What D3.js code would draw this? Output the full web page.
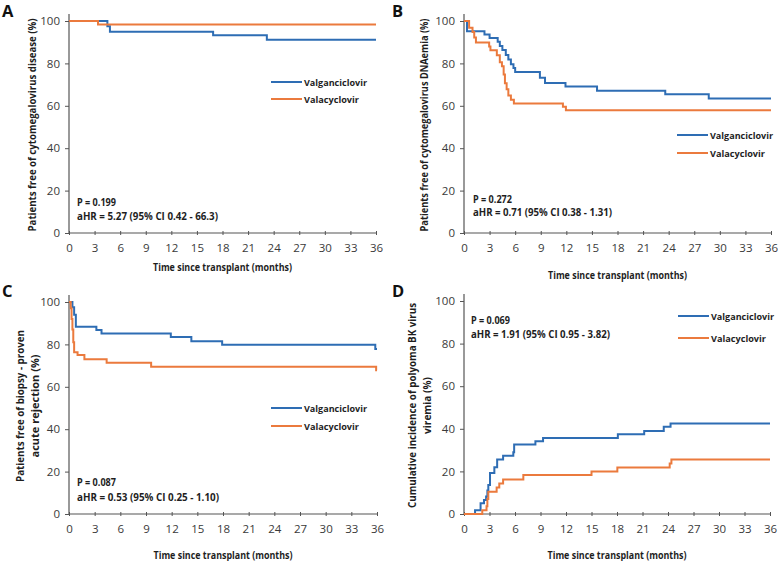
<!DOCTYPE html>
<html>
<head>
<meta charset="utf-8">
<script src="https://cdn.jsdelivr.net/npm/d3@7"></script>
<style>
  html, body { margin: 0; padding: 0; background: #fff; }
  svg { display: block; }
  text { font-family: "Open Sans", "Liberation Sans", Arial, sans-serif; }
</style>
</head>
<body>
<svg id="chart" width="778" height="561"></svg>
<script>
// ---------------- DATA ----------------
const seriesNames = ["Valganciclovir", "Valacyclovir"];
const xTicks = [0, 3, 6, 9, 12, 15, 18, 21, 24, 27, 30, 33, 36];
const yTicks = [0, 20, 40, 60, 80, 100];

// Panel A: CMV disease-free (%), [month, value]
const aValgan = [[0,100],[4.5,97.5],[4.8,94.9],[16.9,93.3],[23.2,91.2],[36,91.2]];
const aValacy = [[0,100],[3.4,98.4],[36,98.4]];

// Panel B: CMV DNAemia-free (%)
const bValgan = [[0,100],[0.35,95.2],[2.4,93.6],[3.0,92.0],[3.95,90.2],[4.2,88.2],[4.5,86.3],[4.9,84],[5.2,81.8],[5.5,79.6],[5.8,77.8],[6.0,76.0],[8.9,73.2],[9.5,70.8],[11.9,69.1],[15.6,67.1],[23.6,65.5],[28.7,63.5],[36,63.5]];
const bValacy = [[0,100],[0.6,96.8],[1.0,94.8],[1.2,92.2],[1.4,89.8],[2.95,88.0],[3.1,86.2],[3.85,83.8],[4.2,80.6],[4.45,78.6],[4.65,74.8],[4.8,70.6],[5.0,67.8],[5.2,64.8],[5.5,62.8],[5.85,61.1],[11.6,59.6],[11.95,57.9],[36,57.9]];

// Panel C: biopsy-proven acute rejection-free (%)
const cValgan = [[0,100],[0.4,97.5],[0.6,94],[0.8,88.3],[3.2,86.8],[3.8,85.1],[11.9,83.5],[14.3,81.5],[17.9,79.8],[35.8,77.8],[36,77.8]];
const cValacy = [[0,100],[0.2,97],[0.3,92],[0.4,87],[0.5,81],[0.6,76.3],[1.0,75.0],[1.8,73.0],[4.4,71.4],[9.6,69.5],[35.9,67.8],[36,67.8]];

// Panel D: cumulative incidence of BK viremia (%)
const dValgan = [[0,0],[1.3,1.8],[1.95,5],[2.35,6.6],[2.6,8.2],[2.75,11],[2.86,13.6],[3.06,19.3],[3.57,22],[3.9,25.6],[4.6,27.3],[5.8,29],[5.9,32.6],[8.4,34.1],[9.3,35.7],[18.1,37.4],[21.2,39],[23.5,41],[24.3,42.5],[36,42.5]];
const dValacy = [[0,0],[2.15,1.8],[2.65,3.6],[2.75,7],[2.86,10.5],[3.84,12.5],[4.15,14.3],[4.6,16.2],[6.98,18.3],[15.0,19.9],[18.04,21.8],[24.2,23.7],[24.4,25.6],[36,25.6]];

const panelLabels = ["A", "B", "C", "D"];
const yTitles = [
  ["Patients free of cytomegalovirus disease (%)"],
  ["Patients free of cytomegalovirus DNAemia (%)"],
  ["Patients free of biopsy - proven", "acute rejection (%)"],
  ["Cumulative incidence of polyoma BK virus", "viremia  (%)"]
];
const xTitle = "Time since transplant (months)";
const pTexts = ["P = 0.199", "P = 0.272", "P = 0.087", "P = 0.069"];
const hrTexts = [
  "aHR = 5.27 (95% CI 0.42 - 66.3)",
  "aHR = 0.71 (95% CI 0.38 - 1.31)",
  "aHR = 0.53 (95% CI 0.25 - 1.10)",
  "aHR = 1.91 (95% CI 0.95 - 3.82)"
];

// ---------------- LAYOUT ----------------
const colors = ["#2e6db4", "#eb7a3d"];
const panels = [
  { x0: 69,  x1: 376, yT: 21,  yB: 233, titleY: 271, lab: [2, 17],   yTitleX: [32], yTitleW: [213],
    leg: { x: 271, y: [82, 99] },   ann: { x: 77, y: [202, 216] }, hrW: 141, data: [aValgan, aValacy] },
  { x0: 464, x1: 771, yT: 21,  yB: 233, titleY: 279, lab: [392, 17], yTitleX: [424], yTitleW: [213],
    leg: { x: 677, y: [135, 153] }, ann: { x: 473, y: [199, 212] }, hrW: 139, data: [bValgan, bValacy] },
  { x0: 69,  x1: 377, yT: 302, yB: 514, titleY: 559, lab: [2, 297],  yTitleX: [20, 35], yTitleW: [152, 103],
    leg: { x: 271, y: [408, 426] }, ann: { x: 77, y: [482, 497] }, hrW: 142, data: [cValgan, cValacy] },
  { x0: 464, x1: 770, yT: 301, yB: 514, titleY: 559, lab: [392, 297], yTitleX: [412, 427], yTitleW: [205, 57],
    leg: { x: 678, y: [316, 338] }, ann: { x: 471, y: [320, 334] }, hrW: 139, data: [dValgan, dValacy] }
];

const svg = d3.select("#chart");

function boldText(g, x, y, txt, w, fs) {
  const t = g.append("text").attr("x", x).attr("y", y)
    .attr("font-weight", "bold").attr("font-size", fs || 10.5).attr("fill", "#1e1e1e").text(txt);
  if (w) t.attr("textLength", w).attr("lengthAdjust", "spacingAndGlyphs");
  return t;
}

panels.forEach((p, i) => {
  const g = svg.append("g");
  const x = d3.scaleLinear().domain([0, 36]).range([p.x0, p.x1]);
  const y = d3.scaleLinear().domain([0, 100]).range([p.yB, p.yT]);

  // panel label
  g.append("text").attr("x", p.lab[0]).attr("y", p.lab[1])
    .attr("font-family", "Liberation Sans, Arial, sans-serif")
    .attr("font-weight", "bold").attr("font-size", 16.5).attr("fill", "#111")
    .text(panelLabels[i]);

  // y axis
  const yAxis = g.append("g").attr("transform", `translate(${p.x0},0)`)
    .call(d3.axisLeft(y).tickValues(yTicks).tickSize(4).tickPadding(5));
  yAxis.select(".domain").remove();
  yAxis.selectAll(".tick line").attr("stroke", "#555");
  yAxis.selectAll(".tick text").attr("font-size", 11.5).attr("fill", "#3a3a3a")
    .attr("font-family", "Open Sans, sans-serif");
  g.append("line").attr("x1", p.x0).attr("x2", p.x0)
    .attr("y1", p.yB).attr("y2", p.yT - 7).attr("stroke", "#555").attr("stroke-width", 1.2);

  // x axis
  const xAxis = g.append("g").attr("transform", `translate(0,${p.yB})`)
    .call(d3.axisBottom(x).tickValues(xTicks).tickSize(3).tickPadding(8));
  xAxis.select(".domain").remove();
  xAxis.selectAll(".tick line").attr("y1", -2).attr("y2", 2).attr("stroke", "#555");
  xAxis.selectAll(".tick text").attr("font-size", 11.5).attr("fill", "#3a3a3a")
    .attr("font-family", "Open Sans, sans-serif");
  g.append("line").attr("x1", p.x0).attr("x2", p.x1 + 1)
    .attr("y1", p.yB).attr("y2", p.yB).attr("stroke", "#555").attr("stroke-width", 1.2);

  // x title
  boldText(g, (p.x0 + p.x1) / 2, p.titleY, xTitle, 139).attr("text-anchor", "middle");

  // y title
  const yc = (p.yT + p.yB) / 2 - 2;
  yTitles[i].forEach((t, k) => {
    g.append("text")
      .attr("transform", `translate(${p.yTitleX[k] + 4},${yc}) rotate(-90)`)
      .attr("text-anchor", "middle").attr("font-weight", "bold").attr("font-size", 10)
      .attr("textLength", p.yTitleW[k]).attr("lengthAdjust", "spacingAndGlyphs")
      .attr("fill", "#1e1e1e").text(t);
  });

  // lines
  const line = d3.line().x(d => x(d[0])).y(d => y(d[1])).curve(d3.curveStepAfter);
  p.data.forEach((series, s) => {
    g.append("path").datum(series).attr("d", line)
      .attr("fill", "none").attr("stroke", colors[s]).attr("stroke-width", 2);
  });

  // legend
  const legW = [63, 55];
  seriesNames.forEach((name, s) => {
    g.append("line").attr("x1", p.leg.x).attr("x2", p.leg.x + 31)
      .attr("y1", p.leg.y[s]).attr("y2", p.leg.y[s])
      .attr("stroke", colors[s]).attr("stroke-width", 2);
    boldText(g, p.leg.x + 33, p.leg.y[s] + 4, name, legW[s], 9.5);
  });

  // annotations
  boldText(g, p.ann.x, p.ann.y[0] + 4, pTexts[i], 39);
  boldText(g, p.ann.x, p.ann.y[1] + 4, hrTexts[i], p.hrW);
});
</script>
</body>
</html>
